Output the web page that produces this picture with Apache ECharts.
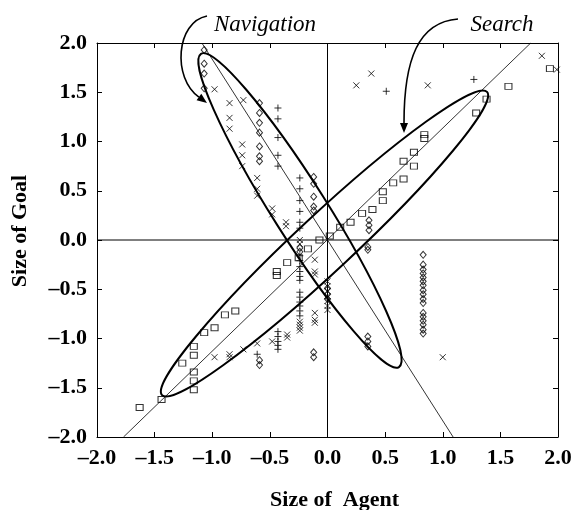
<!DOCTYPE html>
<html>
<head>
<meta charset="utf-8">
<script src="https://cdn.jsdelivr.net/npm/echarts@6/dist/echarts.min.js"></script>
<style>
html, body { margin: 0; padding: 0; background: #fff; }
#main { width: 573px; height: 510px; }
</style>
</head>
<body>
<div id="main"></div>
<script>
// axis ticks (both axes)
const ticks = [-2, -1.5, -1, -0.5, 0, 0.5, 1, 1.5, 2];

// marker groups, [size of agent, size of goal]
const squares = [
  [-1.63, -1.70], [-1.44, -1.62], [-1.16, -1.52], [-1.16, -1.43], [-1.16, -1.34],
  [-1.26, -1.25], [-1.16, -1.17], [-1.16, -1.08], [-1.07, -0.94], [-0.98, -0.89],
  [-0.89, -0.76], [-0.80, -0.72], [-0.44, -0.32], [-0.44, -0.36], [-0.35, -0.23],
  [-0.25, -0.18], [-0.17, -0.09], [-0.07, 0.0], [0.02, 0.04], [0.11, 0.13],
  [0.20, 0.18], [0.30, 0.27], [0.39, 0.31], [0.48, 0.40], [0.48, 0.49],
  [0.57, 0.58], [0.66, 0.62], [0.75, 0.75], [0.66, 0.80], [0.75, 0.89],
  [0.84, 1.03], [0.84, 1.07], [1.29, 1.29], [1.38, 1.43], [1.57, 1.56], [1.93, 1.74]
];
const diamonds = [
  [-1.07, 1.93], [-1.07, 1.79], [-1.07, 1.69], [-1.07, 1.54],
  [-0.59, 1.39], [-0.59, 1.29], [-0.59, 1.19], [-0.59, 1.09], [-0.59, 0.95], [-0.59, 0.85], [-0.59, 0.80],
  [-0.12, 0.64], [-0.12, 0.57], [-0.12, 0.44], [-0.12, 0.34], [-0.12, 0.30],
  [-0.24, -0.08], [-0.24, -0.12], [0.0, -0.49], [0.0, -0.55], [0.0, -0.60],
  [-0.12, -1.14], [-0.12, -1.19], [-0.59, -1.22], [-0.59, -1.27],
  [0.36, 0.20], [0.36, 0.15], [0.36, 0.10], [0.35, -0.07], [0.35, -0.10],
  [0.35, -0.98], [0.35, -1.03], [0.35, -1.08],
  [0.83, -0.15], [0.83, -0.25], [0.83, -0.30], [0.83, -0.34], [0.83, -0.38], [0.83, -0.42],
  [0.83, -0.46], [0.83, -0.51], [0.83, -0.55], [0.83, -0.60], [0.83, -0.64], [0.83, -0.74],
  [0.83, -0.78], [0.83, -0.82], [0.83, -0.86], [0.83, -0.91], [0.83, -0.95]
];
const crosses = [
  [-0.98, 1.53], [-0.85, 1.39], [-0.73, 1.42], [-0.85, 1.24], [-0.85, 1.13],
  [-0.74, 0.97], [-0.74, 0.86], [-0.74, 0.75], [-0.61, 0.63], [-0.61, 0.52], [-0.61, 0.45],
  [-0.48, 0.32], [-0.48, 0.26], [-0.36, 0.18], [-0.36, 0.14], [-0.24, 0.0], [-0.24, -0.04],
  [0.25, 1.57], [0.38, 1.69], [0.87, 1.57], [1.86, 1.87], [1.99, 1.73],
  [-0.11, -0.20], [-0.11, -0.32], [-0.11, -0.35], [-0.11, -0.74], [-0.11, -0.81], [-0.11, -0.84],
  [0.0, -0.42], [0.0, -0.47], [0.0, -0.52], [0.0, -0.57], [0.0, -0.62], [0.0, -0.67], [0.0, -0.71],
  [-0.24, -0.83], [-0.24, -0.86], [-0.24, -0.89], [-0.24, -0.92],
  [-0.35, -0.96], [-0.35, -0.99], [-0.48, -1.03], [-0.61, -1.05], [-0.73, -1.11],
  [-0.85, -1.16], [-0.85, -1.19], [-0.98, -1.19], [1.0, -1.19]
];
const pluses = [
  [-0.43, 1.34], [-0.43, 1.23], [-0.43, 1.04], [-0.43, 0.86], [-0.43, 0.75],
  [-0.24, 0.63], [-0.24, 0.52], [-0.24, 0.40], [-0.24, 0.29], [-0.24, 0.18], [-0.24, 0.12],
  [0.51, 1.51], [1.27, 1.63],
  [-0.24, -0.16], [-0.24, -0.21], [-0.24, -0.27], [-0.24, -0.32], [-0.24, -0.37], [-0.24, -0.41],
  [-0.24, -0.53], [-0.24, -0.58], [-0.24, -0.63], [-0.24, -0.67], [-0.24, -0.72], [-0.24, -0.77],
  [-0.43, -0.93], [-0.43, -0.98], [-0.43, -1.03], [-0.43, -1.07], [-0.43, -1.11],
  [-0.61, -1.16]
];

// reference lines and ellipse tips
const searchLine = [[-1.77, -2], [1.763, 2]];
const navLine = [[-1.09, 2], [1.09, -2]];
const zeroV = [[0, -2], [0, 2]];
const zeroH = [[-2, 0], [2, 0]];
const navTips = [[-1.098, 1.89], [0.62, -1.29]];
const searchTips = [[-1.436, -1.575], [1.384, 1.504]];

const FONT = "'Liberation Serif', 'Times New Roman', serif";
const fmt = v => (v < 0 ? '\u2013' : '') + Math.abs(v).toFixed(1);

const chart = echarts.init(document.getElementById('main'));

function frameAxis(pos, labels, extra) {
  return Object.assign({
    type: 'value', min: ticks[0], max: ticks[ticks.length - 1], interval: 0.5,
    position: pos,
    axisLine: { show: true, onZero: false, lineStyle: { color: '#000', width: 1 } },
    axisTick: { show: true, inside: true, length: 5, lineStyle: { color: '#000', width: 1 } },
    axisLabel: {
      show: labels, margin: 10, formatter: fmt,
      fontFamily: FONT, fontWeight: 'bold', fontSize: 22, color: '#000'
    },
    splitLine: { show: false }
  }, extra || {});
}

function refLine(data, width) {
  return {
    type: 'line', data: data, symbol: 'none', silent: true, animation: false,
    lineStyle: { color: '#000', width: width }
  };
}

function marks(data, symbol, size) {
  return {
    type: 'scatter', data: data, symbol: symbol, symbolSize: size, silent: true, animation: false,
    itemStyle: { color: 'transparent', borderColor: '#000', borderWidth: 1 },
    z: 5
  };
}

chart.setOption({
  animation: false,
  grid: { left: 97, right: 15, top: 43, bottom: 73, outerBoundsMode: 'none' },
  xAxis: [
    frameAxis('bottom', true, {
      name: 'Size of  Agent', nameLocation: 'middle', nameGap: 52,
      nameTextStyle: { fontFamily: FONT, fontWeight: 'bold', fontSize: 22, color: '#000', padding: [0, 0, 0, 14] }
    }),
    frameAxis('top', false)
  ],
  yAxis: [
    frameAxis('left', true, {
      name: 'Size of Goal', nameLocation: 'middle', nameGap: 66,
      nameTextStyle: { fontFamily: FONT, fontWeight: 'bold', fontSize: 22, color: '#000', padding: [0, 0, 0, 18] }
    }),
    frameAxis('right', false)
  ],
  series: [
    refLine(zeroV, 1),
    refLine(zeroH, 1),
    refLine(searchLine, 0.8),
    refLine(navLine, 0.8),
    marks(squares, 'rect', [7, 6]),
    marks(diamonds, 'diamond', [6, 7]),
    marks(crosses, 'path://M0,0L10,10M10,0L0,10', 6),
    marks(pluses, 'path://M5,0L5,10M0,5L10,5', 7)
  ]
});

function ellipse(tips, ry) {
  const a = chart.convertToPixel({ gridIndex: 0 }, tips[0]);
  const b = chart.convertToPixel({ gridIndex: 0 }, tips[1]);
  return {
    type: 'ellipse', silent: true, z: 50,
    x: (a[0] + b[0]) / 2, y: (a[1] + b[1]) / 2,
    rotation: -Math.atan2(b[1] - a[1], b[0] - a[0]),
    shape: { cx: 0, cy: 0, rx: Math.hypot(b[0] - a[0], b[1] - a[1]) / 2, ry: ry },
    style: { fill: 'none', stroke: '#000', lineWidth: 2 }
  };
}

// curved arrow: bezier from p0 to the base of a filled head at tip
function arrow(p0, c1, c2, tip, dir) {
  const len = Math.hypot(dir[0], dir[1]);
  const d = [dir[0] / len, dir[1] / len], n = [-d[1], d[0]];
  const base = [tip[0] - d[0] * 10, tip[1] - d[1] * 10];
  return [
    {
      type: 'bezierCurve', silent: true, z: 50,
      shape: { x1: p0[0], y1: p0[1], cpx1: c1[0], cpy1: c1[1], cpx2: c2[0], cpy2: c2[1], x2: base[0], y2: base[1] },
      style: { fill: 'none', stroke: '#000', lineWidth: 1.6 }
    },
    {
      type: 'polygon', silent: true, z: 50,
      shape: { points: [tip, [base[0] + n[0] * 4, base[1] + n[1] * 4], [base[0] - n[0] * 4, base[1] - n[1] * 4]] },
      style: { fill: '#000' }
    }
  ];
}

function label(text, x, y) {
  return {
    type: 'text', silent: true, x: x, y: y,
    style: { text: text, font: 'italic 23px ' + FONT, fill: '#000', align: 'center', verticalAlign: 'middle' }
  };
}

chart.setOption({
  graphic: [
    ellipse(navTips, 27),
    ellipse(searchTips, 28),
    ...arrow([207, 16], [176, 22], [172, 78], [207, 103], [26, 19]),
    ...arrow([458, 19], [418, 22], [404, 60], [404, 133], [0, 1]),
    label('Navigation', 265, 25),
    label('Search', 502, 25)
  ]
});
</script>
</body>
</html>
